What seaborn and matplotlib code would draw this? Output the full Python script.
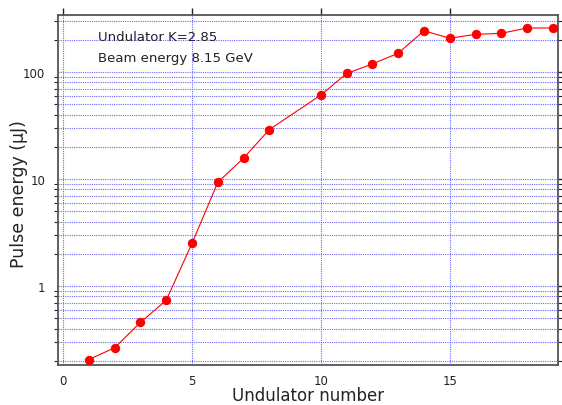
import numpy as np
import pandas as pd
import matplotlib
matplotlib.use("Agg")
import matplotlib.pyplot as plt
import matplotlib.ticker as mticker
import seaborn as sns

# data
undulator = [1, 2, 3, 4, 5, 6, 7, 8, 10, 11, 12, 13, 14, 15, 16, 17, 18, 19]
pulse_energy = [0.206, 0.265, 0.458, 0.735, 2.5, 9.3, 15.7, 29, 61, 97, 119, 150,
                243, 207, 225, 230, 258, 258]
x_ticks = [0, 5, 10, 15]
y_ticks = [1, 10, 100]
annotations = ["Undulator K=2.85", "Beam energy 8.15 GeV"]

sns.set_style("white")
plt.rcParams['font.family'] = ['DejaVu Sans']

df = pd.DataFrame({"undulator": undulator, "energy": pulse_energy})

fig = plt.figure(figsize=(5.62, 4.06), dpi=100)
ax = fig.add_axes([0.103, 0.0985, 0.89, 0.862])

ax.set_yscale("log")
ax.set_xlim(-0.2, 19.2)
ax.set_ylim(0.183, 341)

ax.yaxis.set_major_locator(mticker.FixedLocator(y_ticks))
ax.yaxis.set_major_formatter(mticker.FixedFormatter([str(v) for v in y_ticks]))
ax.yaxis.set_minor_locator(mticker.LogLocator(base=10, subs=np.arange(2, 10)))
ax.yaxis.set_minor_formatter(mticker.NullFormatter())
ax.set_xticks(x_ticks)

ax.grid(True, which="both", axis="y", color="#6a6aff", linestyle=(0, (1, 1)), linewidth=0.8)
ax.grid(True, which="major", axis="x", color="#6a6aff", linestyle=(0, (1, 1)), linewidth=0.8)
ax.set_axisbelow(True)

sns.lineplot(data=df, x="undulator", y="energy", ax=ax, color="#ff0000",
             marker="o", markersize=6, markeredgecolor="#ff0000", linewidth=0.8,
             zorder=5)

for s in ax.spines.values():
    s.set_color("#555555")
    s.set_linewidth(1.3)

ax.tick_params(axis="both", which="major", direction="out", length=5, width=1,
               color="#222222", labelsize=8.5, labelcolor="#222222",
               top=True, right=True, pad=4)
ax.tick_params(axis="x", which="major", pad=1.5)
ax.tick_params(axis="y", which="minor", direction="out", length=3.2, width=0.8,
               color="#222222", left=True, right=True)
ax.tick_params(axis="x", which="minor", bottom=False, top=False)

ax.set_xlabel("Undulator number", fontsize=12, va="baseline", color="#222222")
ax.xaxis.set_label_coords(0.5, -0.1)
ax.set_ylabel("Pulse energy (\u03bcJ)", fontsize=12.5, va="center", color="#222222")
ax.yaxis.set_label_coords(-0.078, 0.49)

ax.text(0.08, 0.94, annotations[0], transform=ax.transAxes, fontsize=9.5,
        va="center", ha="left", color="#222222")
ax.text(0.08, 0.879, annotations[1], transform=ax.transAxes, fontsize=9.5,
        va="center", ha="left", color="#222222")

fig.savefig("out.png", dpi=100)
